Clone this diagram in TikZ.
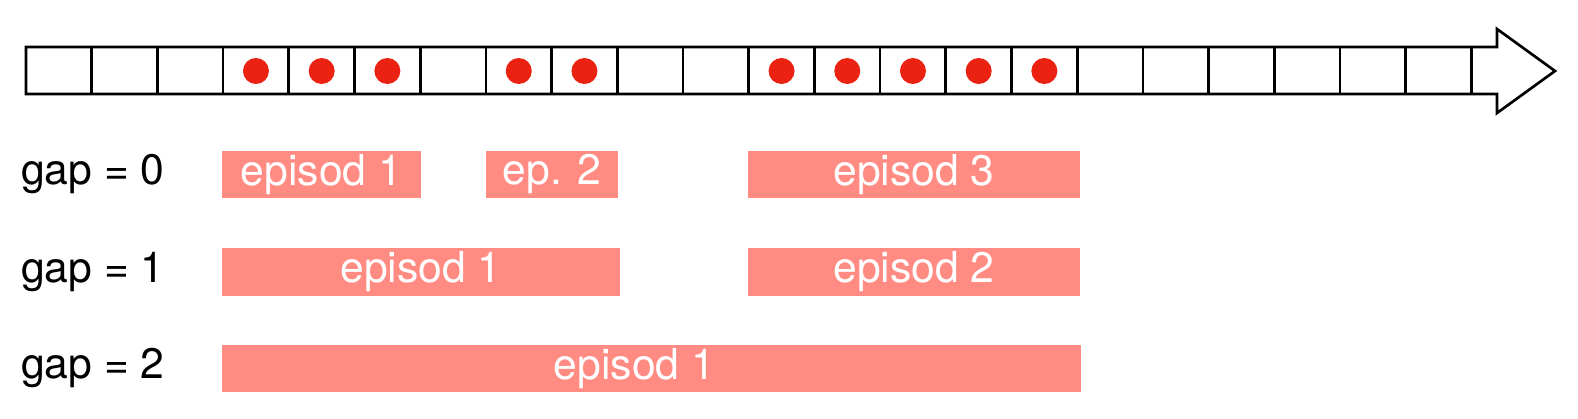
\documentclass[tikz,border=0pt]{standalone}
\usepackage{xcolor}
\usepackage{fontspec}
\setmainfont{TeX Gyre Heros}
\usepackage{tikz}

\definecolor{epicol}{RGB}{255,139,131}
\definecolor{dotcol}{RGB}{235,33,18}

\begin{document}
\begin{tikzpicture}[x=0.75pt,y=0.75pt,yscale=-1,xscale=1,
	epi/.style={fill=epicol},
	epitext/.style={text=white,inner sep=0.75pt,font=\fontsize{32}{38}\selectfont},
	gaptext/.style={anchor=west,inner sep=0.75pt,font=\fontsize{32}{38}\selectfont},
	dot/.style={circle,fill=dotcol,inner sep=0pt,minimum size=19.5pt}]
	\useasboundingbox (0,0) rectangle (1578,418);
	
	%Timeline arrow
	\draw [line width=2pt,line join=miter]  (26,47) -- (1497,47) -- (1497,29) -- (1555,71) -- (1497,113) -- (1497,94) -- (26,94) -- cycle ;
	%Cell borders
	\foreach \k in {1,...,22}
		\draw [line width=2pt]  (26+65.7*\k,47) -- (26+65.7*\k,94) ;
	%Events
	\foreach \k in {3,4,5,7,8,11,12,13,14,15}
		\node [dot] (ev\k) at (26+65.7*\k+32.85,71) {};
	
	%Episodes, gap = 0
	\fill [epi]  (222,151) rectangle (421,198) node [midway,epitext] (a1) {episod 1};
	\fill [epi]  (486,151) rectangle (618,198) node [midway,epitext] (a2) {ep. 2};
	\fill [epi]  (748,151) rectangle (1080,198) node [midway,epitext] (a3) {episod 3};
	%Episodes, gap = 1
	\fill [epi]  (222,248) rectangle (620,296) node [midway,epitext] (b1) {episod 1};
	\fill [epi]  (748,248) rectangle (1080,296) node [midway,epitext] (b2) {episod 2};
	%Episodes, gap = 2
	\fill [epi]  (222,345) rectangle (1081,392) node [midway,epitext,xshift=-12.75pt] (c1) {episod 1};
	
	% Text Node
	\draw (20,174.5) node [gaptext] (g0) {gap = 0};
	% Text Node
	\draw (20,272) node [gaptext] (g1) {gap = 1};
	% Text Node
	\draw (20,368.5) node [gaptext] (g2) {gap = 2};
	
\end{tikzpicture}
\end{document}
